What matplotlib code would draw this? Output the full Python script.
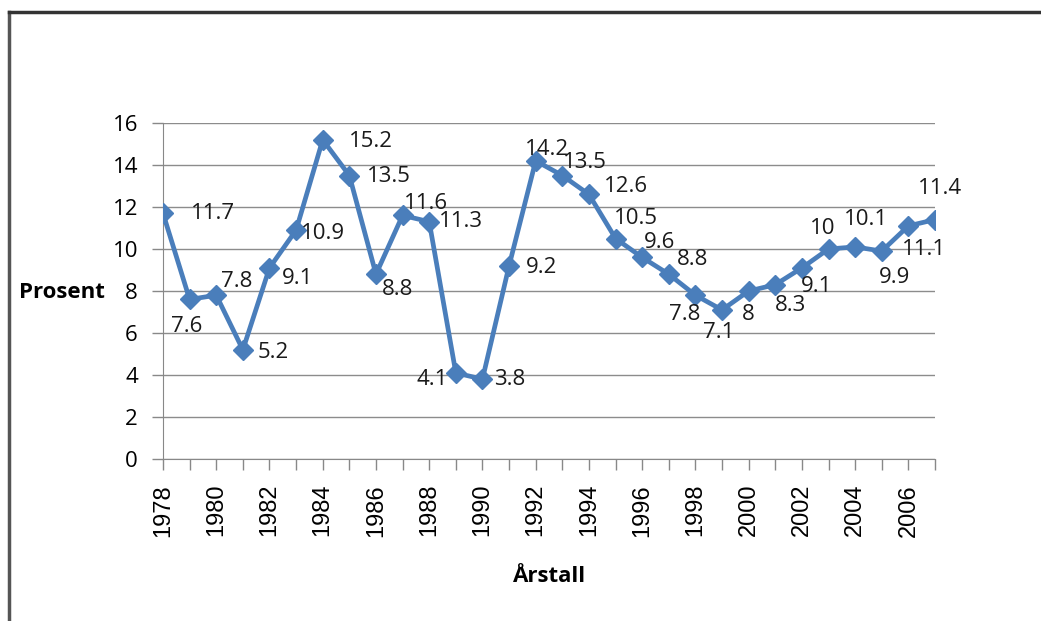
import matplotlib.pyplot as plt
from matplotlib.lines import Line2D

# Data
years = list(range(1978, 2008))
prosent = [11.7, 7.6, 7.8, 5.2, 9.1, 10.9, 15.2, 13.5, 8.8, 11.6,
           11.3, 4.1, 3.8, 9.2, 14.2, 13.5, 12.6, 10.5, 9.6, 8.8,
           7.8, 7.1, 8, 8.3, 9.1, 10, 10.1, 9.9, 11.1, 11.4]
labels = ["11.7", "7.6", "7.8", "5.2", "9.1", "10.9", "15.2", "13.5", "8.8", "11.6",
          "11.3", "4.1", "3.8", "9.2", "14.2", "13.5", "12.6", "10.5", "9.6", "8.8",
          "7.8", "7.1", "8", "8.3", "9.1", "10", "10.1", "9.9", "11.1", "11.4"]
# label offsets in pixels (dx, dy), dy positive = up
offsets = [(50, 0), (-3, -27), (20, 14), (30, -3), (28, -11), (27, -3), (48, -2), (40, -1),
           (22, -15), (23, 12), (32, 0), (-24, -7), (27, 0), (32, -2), (11, 11), (23, 13),
           (37, 8), (20, 20), (17, 15), (24, 15), (-11, -19), (-3, -23), (0, -24), (15, -21),
           (15, -19), (-6, 20), (11, 27), (13, -26), (16, -24), (5, 31)]

blue = "#4a7ebb"
plt.rcParams['font.family'] = ['Open Sans', 'DejaVu Sans']

fig = plt.figure(figsize=(10.41, 6.21), dpi=100)
ax = fig.add_axes([163 / 1041, 1 - 459 / 621, (935 - 163) / 1041, (459 - 123) / 621])

ax.plot(years, prosent, color=blue, lw=3.4, marker='D', ms=10, mfc=blue, mec=blue, zorder=3)
for x, y, t, (dx, dy) in zip(years, prosent, labels, offsets):
    ax.annotate(t, (x, y), xytext=(dx, dy), textcoords='offset pixels',
                ha='center', va='center', fontsize=16, color='#1a1a1a')

ax.set_xlim(1978, 2007)
ax.set_ylim(0, 16)
ax.set_yticks(range(0, 17, 2))
ax.set_xticks(years, minor=True)
ax.set_xticks(range(1978, 2007, 2))
ax.tick_params(axis='x', which='both', direction='out', length=8, color='#888888', width=1,
               labelrotation=90, pad=10)
ax.tick_params(axis='y', direction='out', length=8, color='#888888', width=1, labelsize=16, pad=10)
for lab in ax.get_xticklabels():
    lab.set_family(['Liberation Sans', 'DejaVu Sans'])
    lab.set_fontsize(17)
ax.grid(axis='y', color='#8c8c8c', lw=1)
ax.set_axisbelow(True)
for s in ['top', 'right']:
    ax.spines[s].set_visible(False)
for s in ['left', 'bottom']:
    ax.spines[s].set_color('#888888')

fig.text(62 / 1041, 1 - 293 / 621, "Prosent", ha='center', va='center', fontsize=16, fontweight='bold')
fig.text(550 / 1041, 1 - 577 / 621, "Årstall", ha='center', va='center', fontsize=16, fontweight='bold')

# outer frame
fig.add_artist(Line2D([9 / 1041, 9 / 1041], [0, 1 - 12 / 621], transform=fig.transFigure, color='#555555', lw=2.5))
fig.add_artist(Line2D([9 / 1041, 1], [1 - 12 / 621, 1 - 12 / 621], transform=fig.transFigure, color='#333333', lw=2.5))

fig.savefig("out.png", dpi=100)
